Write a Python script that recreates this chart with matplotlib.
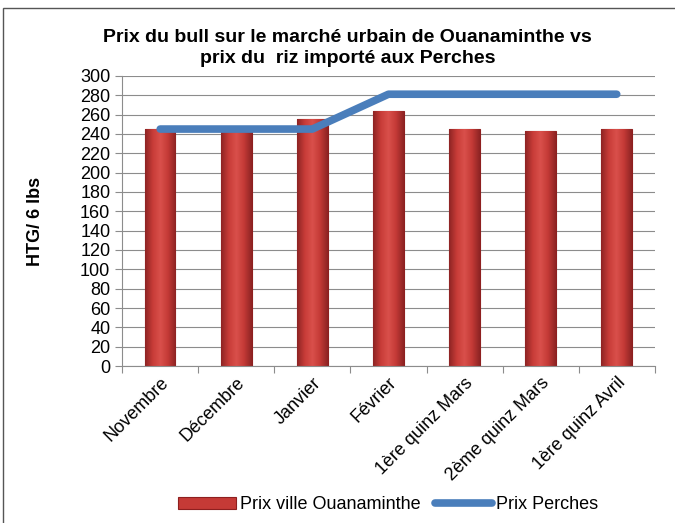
import matplotlib.pyplot as plt
import numpy as np
from matplotlib.patches import Rectangle
from matplotlib.colors import LinearSegmentedColormap

categories = ['Novembre', 'Décembre', 'Janvier', 'Février',
              '1ère quinz Mars', '2ème quinz Mars', '1ère quinz Avril']
prix_ouanaminthe = [245, 243, 255, 264, 245, 243, 245]
prix_perches = [245, 245, 245, 281, 281, 281, 281]
y_ticks = list(range(0, 301, 20))

plt.rcParams['font.family'] = ['Liberation Sans', 'DejaVu Sans']

fig = plt.figure(figsize=(6.75, 5.23), dpi=100)
fig.patches.append(Rectangle((0.004, -0.01), 1.2, 0.995, transform=fig.transFigure,
                             fill=False, edgecolor='#555555', linewidth=1))
ax = fig.add_axes([0.181, 0.300, 0.789, 0.555])

x = np.arange(len(categories))
bars = ax.bar(x, prix_ouanaminthe, width=0.4, color='#C53A36', edgecolor='#8E1F1F',
              linewidth=0.8, label='Prix ville Ouanaminthe', zorder=2)

# horizontal shading on each bar, like the Excel bevel
cmap = LinearSegmentedColormap.from_list('bar', ['#8E2424', '#C83C38', '#D9504B', '#C43A36', '#8E2424'])
grad = np.linspace(0, 1, 64).reshape(1, -1)
for b in bars:
    bx, by, bw, bh = b.get_x(), b.get_y(), b.get_width(), b.get_height()
    im = ax.imshow(grad, cmap=cmap, extent=[bx, bx + bw, by, by + bh],
                   aspect='auto', zorder=2.1)
    im.set_clip_path(b)

line, = ax.plot(x, prix_perches, color='#4A7EBB', linewidth=5.5,
                solid_capstyle='round', solid_joinstyle='round',
                label='Prix Perches', zorder=3)

ax.set_xlim(-0.5, len(categories) - 0.5)
ax.set_ylim(0, 300)
ax.set_yticks(y_ticks)
ax.yaxis.grid(True, color='#8C8C8C', linewidth=0.8, zorder=0)
ax.set_axisbelow(True)

ax.set_xticks(np.arange(len(categories) + 1) - 0.5, minor=False)
ax.set_xticklabels([])
ax.set_xticks(x, minor=True)
ax.set_xticklabels(categories, minor=True, rotation=45, ha='right',
                   rotation_mode='anchor', fontsize=13)
ax.tick_params(axis='x', which='minor', length=0, pad=6)
ax.tick_params(axis='x', which='major', length=5, color='#8C8C8C')
ax.tick_params(axis='y', labelsize=13, length=5, color='#8C8C8C')

for side in ['top', 'right']:
    ax.spines[side].set_visible(False)
ax.spines['left'].set_color('#8C8C8C')
ax.spines['bottom'].set_color('#8C8C8C')

ax.set_ylabel('HTG/ 6 lbs', fontsize=13, fontweight='bold', labelpad=26)
fig.text(0.515, 0.908, 'Prix du bull sur le marché urbain de Ouanaminthe vs\nprix du  riz importé aux Perches',
         ha='center', va='center', fontsize=14, fontweight='bold', linespacing=1.35)

fig.legend(handles=[bars, line], loc='center', bbox_to_anchor=(0.575, 0.035),
           ncol=2, frameon=False, fontsize=13, handlelength=3.2, columnspacing=0.8,
           handletextpad=0.2)

fig.savefig('out.png', dpi=100)
